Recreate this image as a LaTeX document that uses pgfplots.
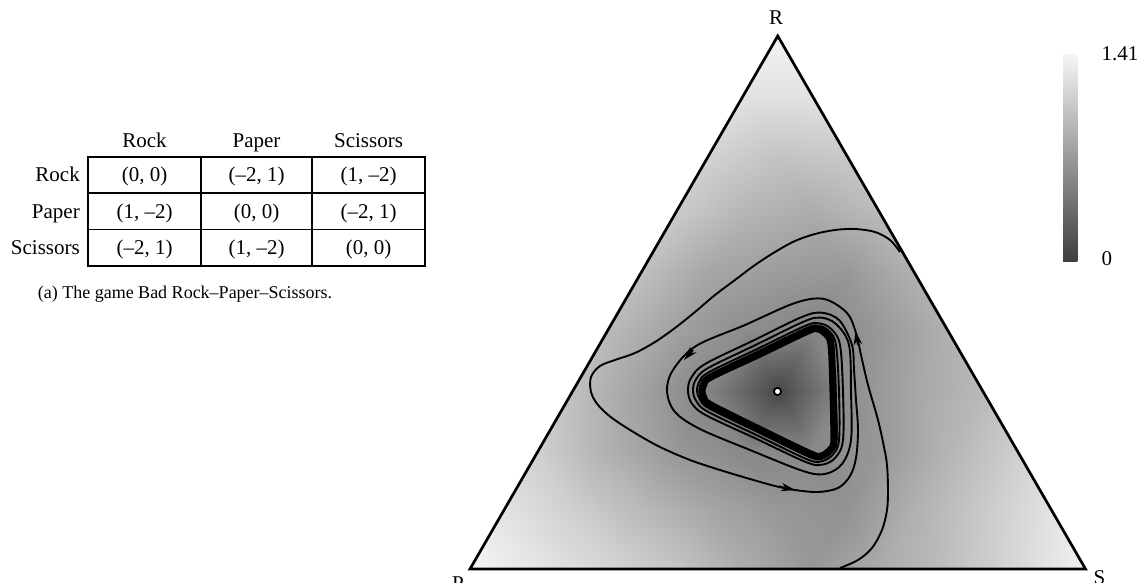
\documentclass[border=0pt]{standalone}
\usepackage{pgfplots}
\pgfplotsset{compat=1.18}
\usepackage{fontspec}
\setmainfont{Liberation Serif}
\usetikzlibrary{arrows.meta}

\begin{document}
\begin{tikzpicture}[x=1pt,y=1pt]
\useasboundingbox (0,0) rectangle (1138,583);

% payoff table of the game
\begin{scope}[font=\fontsize{21}{25}\selectfont, every node/.style={inner sep=0pt}]
  \draw[line width=1.2pt] (88,426) rectangle (425,317);
  \draw[line width=1.2pt] (201,426)--(201,317) (312,426)--(312,317)
        (88,390)--(425,390) (88,353.5)--(425,353.5);
  \node[anchor=base] at (144.5,435) {Rock};
  \node[anchor=base] at (256.5,435) {Paper};
  \node[anchor=base] at (368.5,435) {Scissors};
  \node[anchor=base east] at (80,401) {Rock};
  \node[anchor=base east] at (80,364.5) {Paper};
  \node[anchor=base east] at (80,328) {Scissors};
  \node[anchor=base] at (144.5,401) {(0, 0)};
  \node[anchor=base] at (256.5,401) {(–2, 1)};
  \node[anchor=base] at (368.5,401) {(1, –2)};
  \node[anchor=base] at (144.5,364.5) {(1, –2)};
  \node[anchor=base] at (256.5,364.5) {(0, 0)};
  \node[anchor=base] at (368.5,364.5) {(–2, 1)};
  \node[anchor=base] at (144.5,328) {(–2, 1)};
  \node[anchor=base] at (256.5,328) {(1, –2)};
  \node[anchor=base] at (368.5,328) {(0, 0)};
\end{scope}
\node[anchor=base, inner sep=0pt, font=\fontsize{18}{22}\selectfont] at (185,284)
  {(a) The game Bad Rock–Paper–Scissors.};

\begin{axis}[
  at={(470pt,14pt)}, anchor=south west,
  x=1pt, y=1pt,
  xmin=0, xmax=615.5, ymin=0, ymax=533,
  hide axis, clip=false,
  colormap={speed}{gray(0cm)=(0.24); gray(1cm)=(0.965)},
  point meta min=0, point meta max=1.41,
  colorbar,
  colorbar style={
    at={(parent axis.north east)}, anchor=north east, yshift=-18pt,
    scale only axis, width=31pt, height=208pt,
    ytick={0,1.41}, yticklabels={\raisebox{7pt}{0},1.41},
    yticklabel style={font=\fontsize{21}{25}\selectfont, xshift=4pt},
    major tick length=0pt,
    axis line style={draw=none},
  },
]
% speed field on a triangular grid of the simplex, one triangle per row
\addplot[patch, patch type=triangle, shader=interp, point meta=explicit]
  table[row sep=\\, x=x, y=y, meta=c] {
x y c\\
0 0 1.41\\ 68.4 0 1.28\\ 34.2 59.2 1.26\\
68.4 0 1.28\\ 136.8 0 1.16\\ 102.6 59.2 1.11\\
136.8 0 1.16\\ 205.2 0 1.03\\ 171.0 59.2 0.95\\
205.2 0 1.03\\ 273.6 0 0.85\\ 239.4 59.2 0.80\\
273.6 0 0.85\\ 342.0 0 0.69\\ 307.8 59.2 0.69\\
342.0 0 0.69\\ 410.3 0 0.84\\ 376.1 59.2 0.65\\
410.3 0 0.84\\ 478.7 0 0.99\\ 444.5 59.2 0.88\\
478.7 0 0.99\\ 547.1 0 1.18\\ 512.9 59.2 1.07\\
547.1 0 1.18\\ 615.5 0 1.37\\ 581.3 59.2 1.26\\
68.4 0 1.28\\ 102.6 59.2 1.11\\ 34.2 59.2 1.26\\
136.8 0 1.16\\ 171.0 59.2 0.95\\ 102.6 59.2 1.11\\
205.2 0 1.03\\ 239.4 59.2 0.80\\ 171.0 59.2 0.95\\
273.6 0 0.85\\ 307.8 59.2 0.69\\ 239.4 59.2 0.80\\
342.0 0 0.69\\ 376.1 59.2 0.65\\ 307.8 59.2 0.69\\
410.3 0 0.84\\ 444.5 59.2 0.88\\ 376.1 59.2 0.65\\
478.7 0 0.99\\ 512.9 59.2 1.07\\ 444.5 59.2 0.88\\
547.1 0 1.18\\ 581.3 59.2 1.26\\ 512.9 59.2 1.07\\
34.2 59.2 1.26\\ 102.6 59.2 1.11\\ 68.4 118.4 1.11\\
102.6 59.2 1.11\\ 171.0 59.2 0.95\\ 136.8 118.4 0.88\\
171.0 59.2 0.95\\ 239.4 59.2 0.80\\ 205.2 118.4 0.69\\
239.4 59.2 0.80\\ 307.8 59.2 0.69\\ 273.6 118.4 0.57\\
307.8 59.2 0.69\\ 376.1 59.2 0.65\\ 342.0 118.4 0.57\\
376.1 59.2 0.65\\ 444.5 59.2 0.88\\ 410.3 118.4 0.69\\
444.5 59.2 0.88\\ 512.9 59.2 1.07\\ 478.7 118.4 0.91\\
512.9 59.2 1.07\\ 581.3 59.2 1.26\\ 547.1 118.4 1.11\\
102.6 59.2 1.11\\ 136.8 118.4 0.88\\ 68.4 118.4 1.11\\
171.0 59.2 0.95\\ 205.2 118.4 0.69\\ 136.8 118.4 0.88\\
239.4 59.2 0.80\\ 273.6 118.4 0.57\\ 205.2 118.4 0.69\\
307.8 59.2 0.69\\ 342.0 118.4 0.57\\ 273.6 118.4 0.57\\
376.1 59.2 0.65\\ 410.3 118.4 0.69\\ 342.0 118.4 0.57\\
444.5 59.2 0.88\\ 478.7 118.4 0.91\\ 410.3 118.4 0.69\\
512.9 59.2 1.07\\ 547.1 118.4 1.11\\ 478.7 118.4 0.91\\
68.4 118.4 1.11\\ 136.8 118.4 0.88\\ 102.6 177.6 0.99\\
136.8 118.4 0.88\\ 205.2 118.4 0.69\\ 171.0 177.6 0.76\\
205.2 118.4 0.69\\ 273.6 118.4 0.57\\ 239.4 177.6 0.53\\
273.6 118.4 0.57\\ 342.0 118.4 0.57\\ 307.8 177.6 0.08\\
342.0 118.4 0.57\\ 410.3 118.4 0.69\\ 376.1 177.6 0.61\\
410.3 118.4 0.69\\ 478.7 118.4 0.91\\ 444.5 177.6 0.80\\
478.7 118.4 0.91\\ 547.1 118.4 1.11\\ 512.9 177.6 0.95\\
136.8 118.4 0.88\\ 171.0 177.6 0.76\\ 102.6 177.6 0.99\\
205.2 118.4 0.69\\ 239.4 177.6 0.53\\ 171.0 177.6 0.76\\
273.6 118.4 0.57\\ 307.8 177.6 0.08\\ 239.4 177.6 0.53\\
342.0 118.4 0.57\\ 376.1 177.6 0.61\\ 307.8 177.6 0.08\\
410.3 118.4 0.69\\ 444.5 177.6 0.80\\ 376.1 177.6 0.61\\
478.7 118.4 0.91\\ 512.9 177.6 0.95\\ 444.5 177.6 0.80\\
102.6 177.6 0.99\\ 171.0 177.6 0.76\\ 136.8 236.8 0.95\\
171.0 177.6 0.76\\ 239.4 177.6 0.53\\ 205.2 236.8 0.76\\
239.4 177.6 0.53\\ 307.8 177.6 0.08\\ 273.6 236.8 0.61\\
307.8 177.6 0.08\\ 376.1 177.6 0.61\\ 342.0 236.8 0.53\\
376.1 177.6 0.61\\ 444.5 177.6 0.80\\ 410.3 236.8 0.69\\
444.5 177.6 0.80\\ 512.9 177.6 0.95\\ 478.7 236.8 0.88\\
171.0 177.6 0.76\\ 205.2 236.8 0.76\\ 136.8 236.8 0.95\\
239.4 177.6 0.53\\ 273.6 236.8 0.61\\ 205.2 236.8 0.76\\
307.8 177.6 0.08\\ 342.0 236.8 0.53\\ 273.6 236.8 0.61\\
376.1 177.6 0.61\\ 410.3 236.8 0.69\\ 342.0 236.8 0.53\\
444.5 177.6 0.80\\ 478.7 236.8 0.88\\ 410.3 236.8 0.69\\
136.8 236.8 0.95\\ 205.2 236.8 0.76\\ 171.0 296.1 0.99\\
205.2 236.8 0.76\\ 273.6 236.8 0.61\\ 239.4 296.1 0.80\\
273.6 236.8 0.61\\ 342.0 236.8 0.53\\ 307.8 296.1 0.72\\
342.0 236.8 0.53\\ 410.3 236.8 0.69\\ 376.1 296.1 0.69\\
410.3 236.8 0.69\\ 478.7 236.8 0.88\\ 444.5 296.1 0.88\\
205.2 236.8 0.76\\ 239.4 296.1 0.80\\ 171.0 296.1 0.99\\
273.6 236.8 0.61\\ 307.8 296.1 0.72\\ 239.4 296.1 0.80\\
342.0 236.8 0.53\\ 376.1 296.1 0.69\\ 307.8 296.1 0.72\\
410.3 236.8 0.69\\ 444.5 296.1 0.88\\ 376.1 296.1 0.69\\
171.0 296.1 0.99\\ 239.4 296.1 0.80\\ 205.2 355.3 1.07\\
239.4 296.1 0.80\\ 307.8 296.1 0.72\\ 273.6 355.3 0.91\\
307.8 296.1 0.72\\ 376.1 296.1 0.69\\ 342.0 355.3 0.84\\
376.1 296.1 0.69\\ 444.5 296.1 0.88\\ 410.3 355.3 0.95\\
239.4 296.1 0.80\\ 273.6 355.3 0.91\\ 205.2 355.3 1.07\\
307.8 296.1 0.72\\ 342.0 355.3 0.84\\ 273.6 355.3 0.91\\
376.1 296.1 0.69\\ 410.3 355.3 0.95\\ 342.0 355.3 0.84\\
205.2 355.3 1.07\\ 273.6 355.3 0.91\\ 239.4 414.5 1.14\\
273.6 355.3 0.91\\ 342.0 355.3 0.84\\ 307.8 414.5 1.03\\
342.0 355.3 0.84\\ 410.3 355.3 0.95\\ 376.1 414.5 1.07\\
273.6 355.3 0.91\\ 307.8 414.5 1.03\\ 239.4 414.5 1.14\\
342.0 355.3 0.84\\ 376.1 414.5 1.07\\ 307.8 414.5 1.03\\
239.4 414.5 1.14\\ 307.8 414.5 1.03\\ 273.6 473.7 1.26\\
307.8 414.5 1.03\\ 376.1 414.5 1.07\\ 342.0 473.7 1.26\\
307.8 414.5 1.03\\ 342.0 473.7 1.26\\ 273.6 473.7 1.26\\
273.6 473.7 1.26\\ 342.0 473.7 1.26\\ 307.8 532.9 1.39\\
};

% trajectory starting on the R--S edge
\addplot[black, line width=1.9pt, smooth, tension=0.55] coordinates {
(430,317) (420,329) (405,337) (385,340) (365,339) (345,335) (325,328)
(305,317) (285,304) (265,289) (245,274) (225,257) (205,241) (185,227)
(165,216) (145,209) (130,203) (121,192) (121,177) (128,164) (142,151)
(165,136) (190,122) (220,109) (250,99) (280,90) (305,83) (325,79)
(348,77) (368,81) (380,93) (386,111) (388,139) (386,169) (384,199)
(382,224) (369.5,248.5) (351.6,256.3) (331.7,251.9) (283.4,228.5)
(235.1,205) (221,190.9) (218,178) (221.9,165.5) (236.1,153.7)
(286.5,130.1) (337,106.5) (353,104.5) (365.5,111.5) (373,129)
(373,177) (370,224) (361.1,240.1) (349.4,245.6) (335.8,243.4)
(287.4,220.1) (239,196.9) (229.1,187) (227,178) (230,169.4)
(239.4,160.4) (289.5,136.1) (339.6,111.9) (351.8,110.4) (361,116)
(366.5,129) (366,169) (365,199)
};

% trajectory starting on the P--S edge
\addplot[black, line width=1.9pt, smooth, tension=0.55] coordinates {
(370,1) (388,9) (402,21) (412,39) (417,59) (418,79) (417,104) (414,122)
(408,149) (398,184) (391,214) (386,236) (377,256) (354,270) (325,266)
(275,244) (226,223) (203,199) (197,178) (205,157) (230,140) (280,119)
(333,98) (355,95) (372,105) (381,129) (381,177) (379,224)
(366,245) (350.6,251.4) (333.8,247.4) (285.5,224) (237.3,200.5)
(225.5,188.7) (223,178) (226.4,167.7) (237.9,157.3) (288,133.2)
(338.3,109.2) (352.3,107.9) (362.7,114.3) (369,129) (369,177) (366,224)
(359,238) (348.9,243.1) (336.8,241.1) (288.4,217.8) (240,194.6)
(231.3,186) (229.5,178) (231.8,170.3) (240.1,161.8) (290.2,137.5)
(340.3,113.2) (351.4,112.3) (359.9,117.1) (365,129) (364,169)
};

% limit cycle
\addplot[black, line width=7pt, smooth, tension=0.55] coordinates {
(364,129) (363,177) (361,224) (356,235) (348,240) (338,238) (290,215)
(241,192) (234,185) (232,178) (234,171) (241,164) (291,139) (341,115)
(351,113) (359,118) (364,129) (363,177)
};

% direction arrows
\addplot[black, line width=1.9pt, -{Stealth[length=14pt, width=8.5pt]}]
  coordinates {(388,224) (385.5,238)};
\addplot[black, line width=1.9pt, -{Stealth[length=14pt, width=8.5pt]}]
  coordinates {(223,219) (214,209)};
\addplot[black, line width=1.9pt, -{Stealth[length=14pt, width=8.5pt]}]
  coordinates {(309,82.5) (325,79)};

% simplex boundary
\addplot[black, line width=2.7pt, line join=miter] coordinates {
(0,0) (615.5,0) (307.75,533) (0,0) (615.5,0)
};

% interior rest point
\addplot[only marks, mark=*, mark size=3.6pt,
  mark options={fill=white, draw=black, line width=1.8pt}]
  coordinates {(307.5,177.5)};

% vertex labels
\node[anchor=base, inner sep=0pt, font=\fontsize{21}{25}\selectfont]
  at (axis cs:306,544) {R};
\node[anchor=base, inner sep=0pt, font=\fontsize{21}{25}\selectfont]
  at (axis cs:-12,-22) {P};
\node[anchor=base, inner sep=0pt, font=\fontsize{21}{25}\selectfont]
  at (axis cs:629.5,-16) {S};
\end{axis}
\end{tikzpicture}
\end{document}
